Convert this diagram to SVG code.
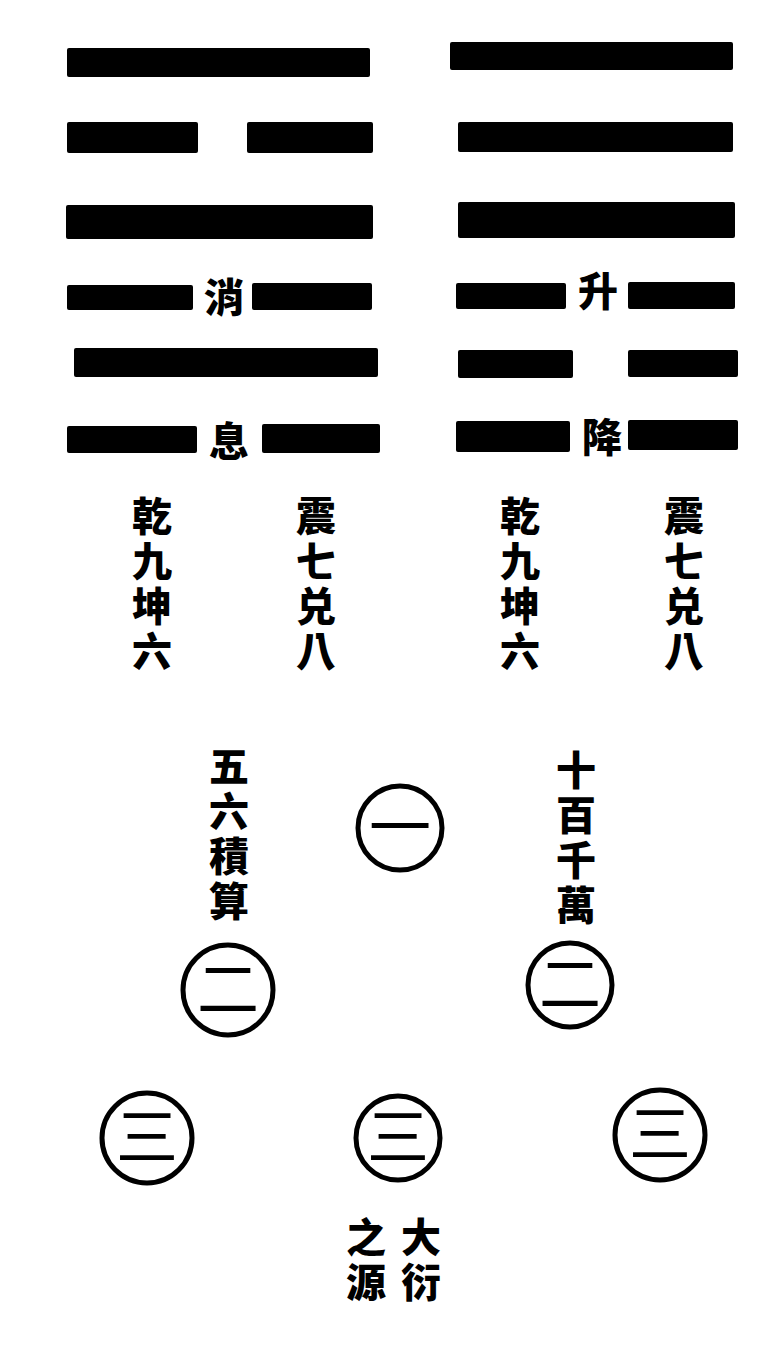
<svg xmlns="http://www.w3.org/2000/svg" width="780" height="1364" viewBox="0 0 780 1364">
<style>
.bar{fill:#000}
.t{font-family:"Noto Sans CJK TC","Noto Sans CJK SC",sans-serif;font-size:40px;font-weight:900;fill:#000;text-anchor:middle}
.v{font-family:"Noto Sans CJK TC","Noto Sans CJK SC",sans-serif;font-size:40px;font-weight:900;fill:#000;writing-mode:vertical-rl;text-anchor:start;letter-spacing:5px}
.c{fill:#fff;stroke:#000;stroke-width:5}
.n{font-family:"Noto Sans CJK TC","Noto Sans CJK SC",sans-serif;font-size:62px;font-weight:400;fill:#000;text-anchor:middle}
</style>
<rect width="780" height="1364" fill="#fff"/>
<g id="hexagram-left">
<rect class="bar" x="67" y="48" width="303" height="29" rx="2"/>
<rect class="bar" x="67" y="122" width="131" height="31" rx="2"/>
<rect class="bar" x="247" y="122" width="126" height="31" rx="2"/>
<rect class="bar" x="66" y="205" width="307" height="34" rx="2"/>
<rect class="bar" x="67" y="285" width="126" height="25" rx="2"/>
<rect class="bar" x="252" y="283" width="120" height="27" rx="2"/>
<rect class="bar" x="74" y="348" width="304" height="29" rx="2"/>
<rect class="bar" x="67" y="426" width="130" height="27" rx="2"/>
<rect class="bar" x="262" y="424" width="118" height="29" rx="2"/>
<text class="t" x="224" y="312">消</text>
<text class="t" x="229" y="456">息</text>
</g>
<g id="hexagram-right">
<rect class="bar" x="450" y="42" width="283" height="28" rx="2"/>
<rect class="bar" x="458" y="122" width="275" height="30" rx="2"/>
<rect class="bar" x="458" y="202" width="277" height="36" rx="2"/>
<rect class="bar" x="456" y="283" width="110" height="26" rx="2"/>
<rect class="bar" x="628" y="282" width="107" height="27" rx="2"/>
<rect class="bar" x="458" y="350" width="115" height="28" rx="2"/>
<rect class="bar" x="628" y="350" width="110" height="27" rx="2"/>
<rect class="bar" x="456" y="421" width="114" height="31" rx="2"/>
<rect class="bar" x="628" y="420" width="110" height="30" rx="2"/>
<text class="t" x="598" y="306">升</text>
<text class="t" x="602" y="452">降</text>
</g>
<g id="col-left-1"><text class="v" x="152" y="496">乾九坤六</text></g>
<g id="col-left-2"><text class="v" x="316" y="496">震七兑八</text></g>
<g id="col-right-1"><text class="v" x="520" y="496">乾九坤六</text></g>
<g id="col-right-2"><text class="v" x="684" y="496">震七兑八</text></g>
<g id="col-wuliu"><text class="v" x="229" y="746">五六積算</text></g>
<g id="col-shibai"><text class="v" x="576" y="750">十百千萬</text></g>
<g id="circle-1"><circle class="c" cx="400" cy="828" r="42"/><text class="n" x="400" y="850">一</text></g>
<g id="circle-2a"><circle class="c" cx="228" cy="990" r="45"/><text class="n" x="228" y="1012">二</text></g>
<g id="circle-2b"><circle class="c" cx="570" cy="985" r="42"/><text class="n" x="570" y="1007">二</text></g>
<g id="circle-3a"><circle class="c" cx="147" cy="1138" r="45"/><text class="n" x="147" y="1160">三</text></g>
<g id="circle-3b"><circle class="c" cx="398" cy="1138" r="42"/><text class="n" x="398" y="1160">三</text></g>
<g id="circle-3c"><circle class="c" cx="660" cy="1135" r="45"/><text class="n" x="660" y="1157">三</text></g>
<g id="col-dayan"><text class="v" x="421" y="1217">大衍</text></g>
<g id="col-zhiyuan"><text class="v" x="366" y="1217">之源</text></g>
<g id="connectors"></g>
</svg>
